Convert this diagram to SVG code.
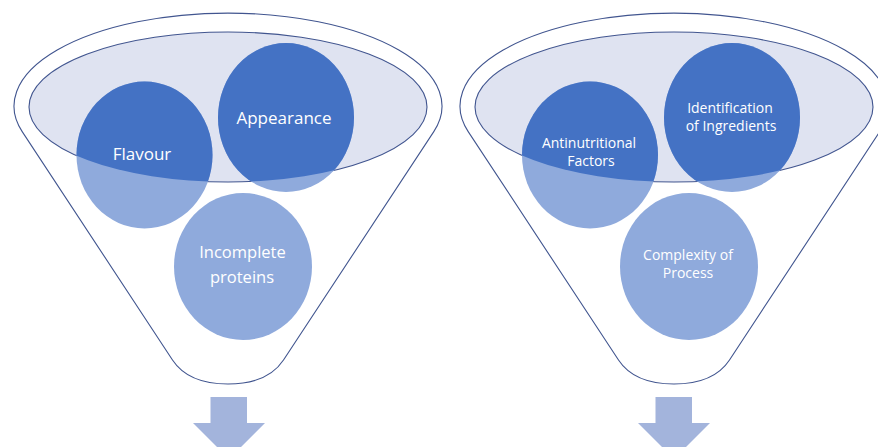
<svg xmlns="http://www.w3.org/2000/svg" width="878" height="447" viewBox="0 0 878 447">
  <style>
    .body { fill: #ffffff; stroke: #41558f; stroke-width: 1.1; }
    .mouth { fill: #dfe3f1; stroke: #41558f; stroke-width: 1.1; }
    .ball-lo { fill: #8faadc; }
    .ball-hi { fill: #4472c4; }
    .arrow { fill: #a3b4dc; }
    .lbl { fill: #ffffff; font-family: "Open Sans", "Noto Sans", "Liberation Sans", sans-serif; text-anchor: middle; }
    .big { font-size: 17px; }
    .small { font-size: 14px; }
  </style>
  <defs>
    <!-- funnel outline: elliptical rim, tapering sides, rounded spout -->
    <path id="funnelBody" d="M22.2,131.6 A214,93 0 1 1 433.8,131.6 L283.5,360 C275.6,372 260,384 228,384 C196,384 180.4,372 172.5,360 Z"/>
    <clipPath id="mouthL"><ellipse cx="228" cy="107" rx="199" ry="75"/></clipPath>
    <clipPath id="mouthR"><ellipse cx="674" cy="107" rx="199" ry="75"/></clipPath>
  </defs>

  <rect width="878" height="447" fill="#ffffff"/>

  <!-- left funnel -->
  <g id="funnel-left">
    <use href="#funnelBody" class="body"/>
    <ellipse class="mouth" cx="228" cy="107" rx="199" ry="75"/>
  </g>

  <!-- right funnel -->
  <g id="funnel-right">
    <use href="#funnelBody" class="body" transform="translate(446,0)"/>
    <ellipse class="mouth" cx="674" cy="107" rx="199" ry="75"/>
  </g>

  <g id="flavour">
    <ellipse class="ball-lo" cx="144.5" cy="155" rx="68" ry="73.5"/>
    <ellipse class="ball-hi" cx="144.5" cy="155" rx="68" ry="73.5" clip-path="url(#mouthL)"/>
    <text class="lbl big" x="142" y="160">Flavour</text>
  </g>

  <g id="appearance">
    <ellipse class="ball-lo" cx="286" cy="117.5" rx="68" ry="74.5"/>
    <ellipse class="ball-hi" cx="286" cy="117.5" rx="68" ry="74.5" clip-path="url(#mouthL)"/>
    <text class="lbl big" x="284" y="124">Appearance</text>
  </g>

  <g id="incomplete-proteins">
    <ellipse class="ball-lo" cx="243" cy="266.5" rx="69" ry="73.5"/>
    <text class="lbl big" x="242.5" y="258.3" style="font-size:16.5px">Incomplete</text>
    <text class="lbl big" x="242" y="283.3" style="font-size:16.5px">proteins</text>
  </g>

  <g id="antinutritional-factors">
    <ellipse class="ball-lo" cx="590" cy="155" rx="68" ry="73.5"/>
    <ellipse class="ball-hi" cx="590" cy="155" rx="68" ry="73.5" clip-path="url(#mouthR)"/>
    <text class="lbl small" x="589" y="148.3">Antinutritional</text>
    <text class="lbl small" x="591" y="166">Factors</text>
  </g>

  <g id="identification-of-ingredients">
    <ellipse class="ball-lo" cx="732" cy="117.5" rx="68" ry="74.5"/>
    <ellipse class="ball-hi" cx="732" cy="117.5" rx="68" ry="74.5" clip-path="url(#mouthR)"/>
    <text class="lbl small" x="730" y="113.3">Identification</text>
    <text class="lbl small" x="731" y="130.7">of Ingredients</text>
  </g>

  <g id="complexity-of-process">
    <ellipse class="ball-lo" cx="689" cy="266.5" rx="69" ry="73.5"/>
    <text class="lbl small" x="688" y="260">Complexity of</text>
    <text class="lbl small" x="688" y="277.7">Process</text>
  </g>

  <!-- outflow arrows below each spout -->
  <g id="connectors">
    <polygon class="arrow" points="210.5,397 247,397 247,423 265,423 229,459 193,423 210.5,423"/>
    <polygon class="arrow" points="655.5,397 692,397 692,423 710,423 674,459 638,423 655.5,423"/>
  </g>
</svg>
